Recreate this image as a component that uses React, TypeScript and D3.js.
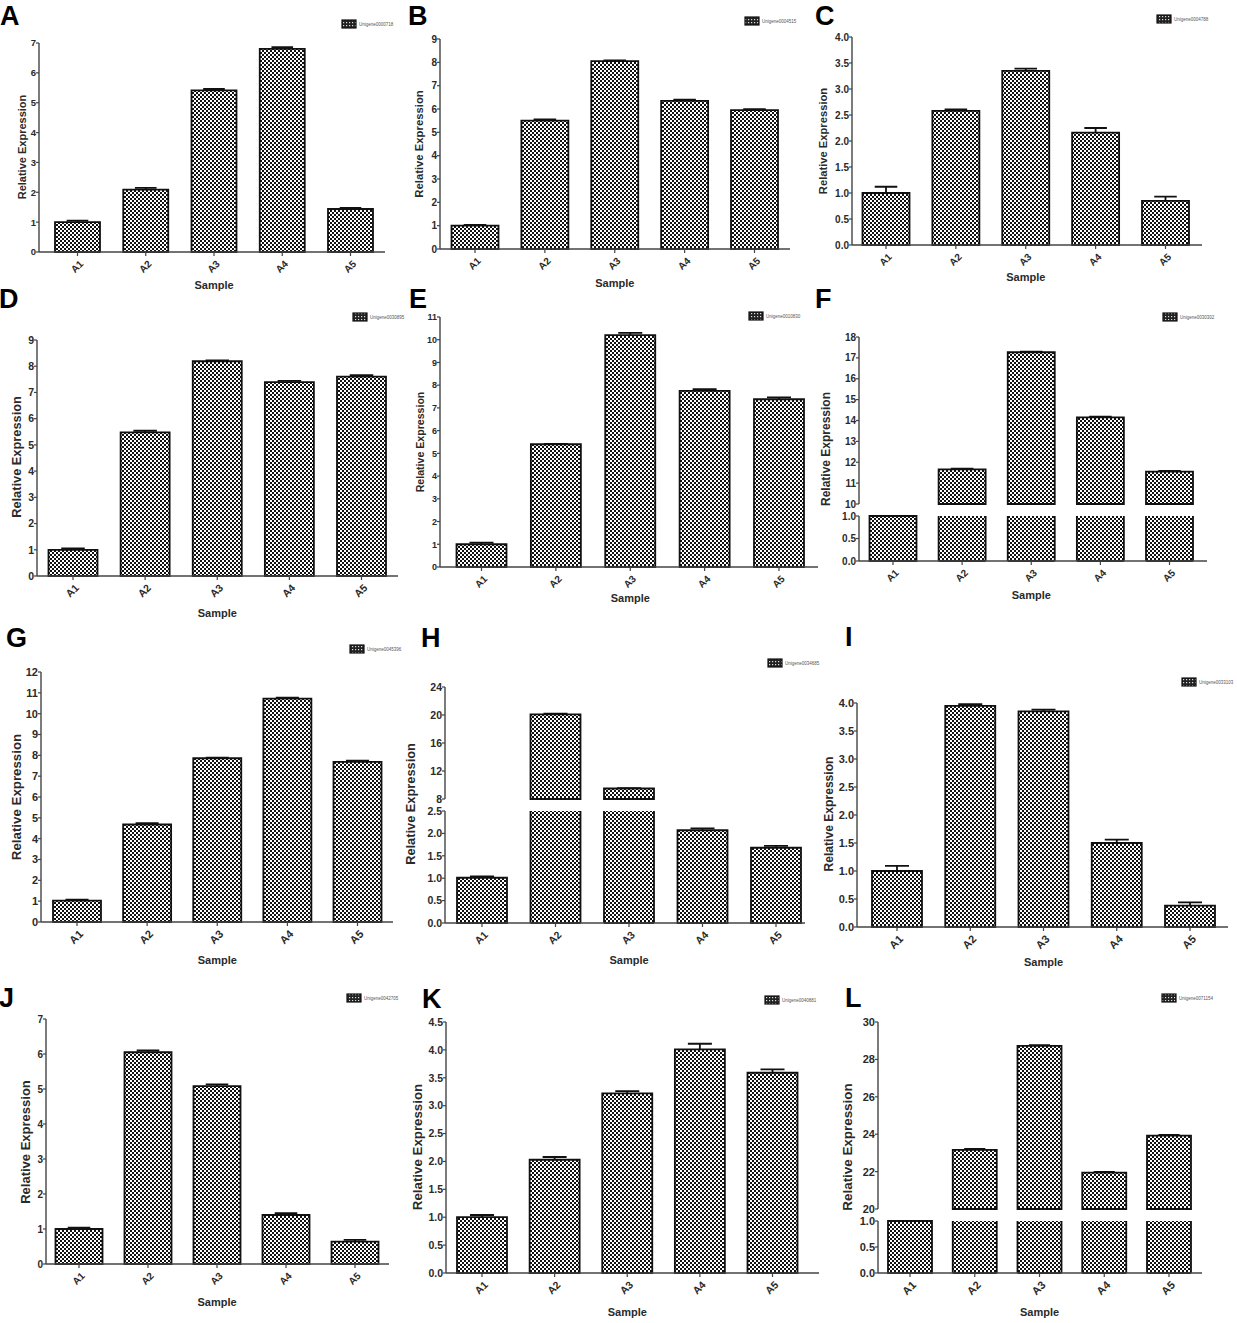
import React from 'react';
import * as d3 from 'd3';

// sample names on every x axis
const samples = ['A1', 'A2', 'A3', 'A4', 'A5'];
const letters = ['A', 'B', 'C', 'D', 'E', 'F', 'G', 'H', 'I', 'J', 'K', 'L'];
const geneIds = [
  'Unigene0000718', 'Unigene0004515', 'Unigene0004788', 'Unigene0030895',
  'Unigene0010830', 'Unigene0030302', 'Unigene0045396', 'Unigene0034685',
  'Unigene0033103', 'Unigene0042705', 'Unigene0040881', 'Unigene0071154',
];

// relative expression (mean) and error per panel
const valuesA = [1.0, 2.09, 5.41, 6.8, 1.44];
const errorsA = [0.05, 0.06, 0.05, 0.06, 0.04];
const valuesB = [1.0, 5.5, 8.05, 6.35, 5.95];
const errorsB = [0.03, 0.05, 0.03, 0.05, 0.04];
const valuesC = [1.0, 2.58, 3.35, 2.16, 0.85];
const errorsC = [0.12, 0.03, 0.04, 0.09, 0.08];
const valuesD = [1.0, 5.48, 8.19, 7.39, 7.6];
const errorsD = [0.05, 0.06, 0.03, 0.05, 0.06];
const valuesE = [1.0, 5.4, 10.2, 7.75, 7.38];
const errorsE = [0.07, 0.02, 0.1, 0.07, 0.08];
const valuesF = [1.0, 11.66, 17.27, 14.15, 11.55];
const errorsF = [0.0, 0.03, 0.03, 0.04, 0.04];
const valuesG = [1.03, 4.68, 7.86, 10.72, 7.69];
const errorsG = [0.04, 0.07, 0.03, 0.05, 0.05];
const valuesH = [1.01, 20.1, 9.5, 2.07, 1.68];
const errorsH = [0.03, 0.08, 0.06, 0.04, 0.04];
const valuesI = [1.0, 3.95, 3.85, 1.5, 0.38];
const errorsI = [0.09, 0.03, 0.03, 0.06, 0.06];
const valuesJ = [1.0, 6.05, 5.08, 1.4, 0.64];
const errorsJ = [0.04, 0.05, 0.05, 0.05, 0.05];
const valuesK = [1.0, 2.03, 3.22, 4.01, 3.59];
const errorsK = [0.04, 0.05, 0.04, 0.1, 0.06];
const valuesL = [1.0, 23.16, 28.72, 21.94, 23.92];
const errorsL = [0.0, 0.05, 0.04, 0.05, 0.04];

// y tick values (broken axes have a lower and an upper segment)
const ticksA = [0, 1, 2, 3, 4, 5, 6, 7];
const ticksB = [0, 1, 2, 3, 4, 5, 6, 7, 8, 9];
const ticksC = [0, 0.5, 1, 1.5, 2, 2.5, 3, 3.5, 4];
const ticksD = [0, 1, 2, 3, 4, 5, 6, 7, 8, 9];
const ticksE = [0, 1, 2, 3, 4, 5, 6, 7, 8, 9, 10, 11];
const ticksFLow = [0, 0.5, 1];
const ticksFHigh = [10, 11, 12, 13, 14, 15, 16, 17, 18];
const ticksG = [0, 1, 2, 3, 4, 5, 6, 7, 8, 9, 10, 11, 12];
const ticksHLow = [0, 0.5, 1, 1.5, 2, 2.5];
const ticksHHigh = [8, 12, 16, 20, 24];
const ticksI = [0, 0.5, 1, 1.5, 2, 2.5, 3, 3.5, 4];
const ticksJ = [0, 1, 2, 3, 4, 5, 6, 7];
const ticksK = [0, 0.5, 1, 1.5, 2, 2.5, 3, 3.5, 4, 4.5];
const ticksLLow = [0, 0.5, 1];
const ticksLHigh = [20, 22, 24, 26, 28, 30];

const values = [valuesA, valuesB, valuesC, valuesD, valuesE, valuesF, valuesG, valuesH, valuesI, valuesJ, valuesK, valuesL];
const errors = [errorsA, errorsB, errorsC, errorsD, errorsE, errorsF, errorsG, errorsH, errorsI, errorsJ, errorsK, errorsL];
const ticks = [
  [ticksA], [ticksB], [ticksC], [ticksD], [ticksE], [ticksFLow, ticksFHigh],
  [ticksG], [ticksHLow, ticksHHigh], [ticksI], [ticksJ], [ticksK], [ticksLLow, ticksLHigh],
];

// pixel layout of each panel
const layout = [
  { lx: 0, ly: 25, ax: 39, ae: 385, c1: 77.5, c5: 350.5, bw: 45, yr: [252, 43], gx: 342, gy: 20, tx: 22, ty: 147, ts: 11, ks: 9.5, sy: 285 },
  { lx: 408, ly: 25, ax: 440, ae: 790, c1: 475, c5: 754.5, bw: 47, yr: [249, 39], gx: 745, gy: 17, tx: 419, ty: 144, ts: 11.3, ks: 10, sy: 283 },
  { lx: 815, ly: 25, ax: 852, ae: 1202, c1: 886, c5: 1165.5, bw: 47, yr: [245, 37], gx: 1157, gy: 15, tx: 823, ty: 141, ts: 11.2, ks: 10, sy: 277 },
  { lx: -1, ly: 308, ax: 37, ae: 398, c1: 73, c5: 361.5, bw: 49, yr: [576, 340], gx: 353, gy: 313, tx: 17, ty: 457, ts: 12.8, ks: 10.5, sy: 613 },
  { lx: 409, ly: 308, ax: 440, ae: 818, c1: 481.5, c5: 779, bw: 50, yr: [567, 317], gx: 749, gy: 312, tx: 420, ty: 442, ts: 10.6, ks: 9, sy: 598 },
  { lx: 815, ly: 308, ax: 859, ae: 1207, c1: 893, c5: 1169.5, bw: 47, yr: [561, 516, 504, 337], gx: 1163, gy: 313, tx: 826, ty: 449, ts: 12, ks: 10, sy: 595 },
  { lx: 6, ly: 647, ax: 41, ae: 393, c1: 77, c5: 357.5, bw: 48, yr: [922, 672], gx: 350, gy: 645, tx: 16, ty: 797, ts: 13.3, ks: 11, sy: 960 },
  { lx: 421, ly: 647, ax: 445, ae: 805, c1: 482, c5: 776, bw: 50, yr: [923, 811, 799, 687], gx: 768, gy: 659, tx: 411, ty: 804, ts: 12.8, ks: 10.5, sy: 960 },
  { lx: 845, ly: 646, ax: 857, ae: 1228, c1: 897, c5: 1190, bw: 50, yr: [927, 703], gx: 1182, gy: 678, tx: 829, ty: 814, ts: 12.1, ks: 11, sy: 962 },
  { lx: -1, ly: 1007, ax: 46, ae: 389, c1: 79, c5: 355, bw: 47, yr: [1264, 1019], gx: 347, gy: 994, tx: 25, ty: 1142, ts: 13, ks: 10, sy: 1302 },
  { lx: 422, ly: 1008, ax: 446, ae: 819, c1: 482, c5: 772.5, bw: 50, yr: [1273, 1022], gx: 765, gy: 996, tx: 417, ty: 1147, ts: 13.3, ks: 10.5, sy: 1312 },
  { lx: 845, ly: 1007, ax: 878, ae: 1202, c1: 910, c5: 1169, bw: 44, yr: [1273, 1221, 1209, 1022], gx: 1162, gy: 994, tx: 847, ty: 1147, ts: 13.4, ks: 11, sy: 1312 },
];

const FONT = '"Liberation Sans", Arial, sans-serif';
const TEXT = '#2a2a2a';
const AXIS = '#444';

interface PanelProps {
  index: number;
}

const Panel: React.FC<PanelProps> = ({ index }: PanelProps) => {
  const L = layout[index];
  const vals = values[index];
  const errs = errors[index];
  const segs = ticks[index];

  const step = (L.c5 - L.c1) / 4;
  const pad = 1 - L.bw / step;
  const x = d3
    .scaleBand()
    .domain(samples)
    .range([L.c1 - step / 2, L.c5 + step / 2])
    .paddingInner(pad)
    .paddingOuter(pad / 2);

  const domain = segs.flatMap((s) => [s[0], s[s.length - 1]]);
  const y = d3.scaleLinear().domain(domain).range(L.yr);
  const y0 = y(0);
  const xks = Math.max(10, L.ks);

  const bars: React.ReactNode[] = [];
  samples.forEach((s, i) => {
    const v = vals[i];
    const bx = x(s) as number;
    const w = x.bandwidth();
    segs.forEach((seg, k) => {
      const lo = seg[0];
      const hi = seg[seg.length - 1];
      if (v <= lo) return;
      const top = Math.min(v, hi);
      const yb = y(lo);
      const yt = y(top);
      const ends = v <= hi;
      bars.push(
        <rect key={`f${i}-${k}`} x={bx} y={yt} width={w} height={yb - yt} fill="url(#checker)" />
      );
      // broken segments keep only their side edges
      const d = ends
        ? `M${bx},${yb}V${yt}H${bx + w}V${yb}Z`
        : `M${bx},${yb}V${yt}M${bx + w},${yt}V${yb}${lo === 0 ? `M${bx},${yb}H${bx + w}` : ''}`;
      bars.push(
        <path key={`b${i}-${k}`} d={d} fill="none" stroke="#111" strokeWidth={1.8} />
      );
      if (ends && errs[i] > 0) {
        const ye = y(v + errs[i]);
        const cx = bx + w / 2;
        const cw = w * 0.24;
        bars.push(
          <path
            key={`e${i}-${k}`}
            d={`M${cx},${yt}V${ye}M${cx - cw},${ye}H${cx + cw}`}
            fill="none"
            stroke="#111"
            strokeWidth={1.8}
          />
        );
      }
    });
  });

  const yAxis: React.ReactNode[] = [];
  segs.forEach((seg, k) => {
    const lo = seg[0];
    const hi = seg[seg.length - 1];
    const fmt = seg.some((t) => !Number.isInteger(t)) ? d3.format('.1f') : d3.format('d');
    yAxis.push(
      <line key={`ax${k}`} x1={L.ax} x2={L.ax} y1={y(lo)} y2={y(hi)} stroke={AXIS} strokeWidth={1.4} />
    );
    seg.forEach((t) => {
      yAxis.push(
        <g key={`t${k}-${t}`} transform={`translate(${L.ax},${y(t)})`}>
          <line x1={-3} x2={0} stroke={AXIS} strokeWidth={1.2} />
          <text
            x={-3}
            dy="0.36em"
            textAnchor="end"
            fontSize={L.ks}
            fontWeight="bold"
            fill={TEXT}
          >
            {fmt(t)}
          </text>
        </g>
      );
    });
  });

  const xMid = (L.c1 + L.c5) / 2;

  return (
    <g fontFamily={FONT}>
      <text x={L.lx} y={L.ly} fontSize={27} fontWeight="bold" fill="#000">
        {letters[index]}
      </text>
      <g>
        <rect x={L.gx} y={L.gy} width={14} height={8} fill="url(#checkerDark)" stroke="#111" strokeWidth={1.2} />
        <text x={L.gx + 17} y={L.gy + 6} fontSize={4.5} fill="#555">
          {geneIds[index]}
        </text>
      </g>
      {bars}
      {yAxis}
      <line x1={L.ax} x2={L.ae} y1={y0} y2={y0} stroke={AXIS} strokeWidth={1.4} />
      {samples.map((s) => {
        const cx = (x(s) as number) + x.bandwidth() / 2;
        return (
          <g key={s} transform={`translate(${cx},${y0})`}>
            <line y1={0} y2={4} stroke={AXIS} strokeWidth={1.2} />
            <text
              transform="translate(4,10) rotate(-45)"
              textAnchor="end"
              dy="0.35em"
              fontSize={xks}
              fontWeight="bold"
              fill={TEXT}
            >
              {s}
            </text>
          </g>
        );
      })}
      <text
        x={xMid}
        y={L.sy}
        dy="0.35em"
        textAnchor="middle"
        fontSize={11}
        fontWeight="bold"
        fill={TEXT}
      >
        Sample
      </text>
      <text
        transform={`translate(${L.tx},${L.ty}) rotate(-90)`}
        dy="0.35em"
        textAnchor="middle"
        fontSize={L.ts}
        fontWeight="bold"
        fill={TEXT}
      >
        Relative Expression
      </text>
    </g>
  );
};

const App: React.FC = () => {
  return (
    <svg
      width={1237}
      height={1323}
      style={{ position: 'absolute', left: 0, top: 0, background: '#fff' }}
    >
      <defs>
        <pattern id="checker" width={4} height={4} patternUnits="userSpaceOnUse">
          <rect width={4} height={4} fill="#fff" />
          <rect width={2} height={2} fill="#111" />
          <rect x={2} y={2} width={2} height={2} fill="#111" />
        </pattern>
        <pattern id="checkerDark" width={3} height={3} patternUnits="userSpaceOnUse">
          <rect width={3} height={3} fill="#222" />
          <rect x={1} y={1} width={1.2} height={1.2} fill="#ddd" />
        </pattern>
      </defs>
      <rect width={1237} height={1323} fill="#fff" />
      {letters.map((l, i) => (
        <Panel key={l} index={i} />
      ))}
    </svg>
  );
};

export default App;
